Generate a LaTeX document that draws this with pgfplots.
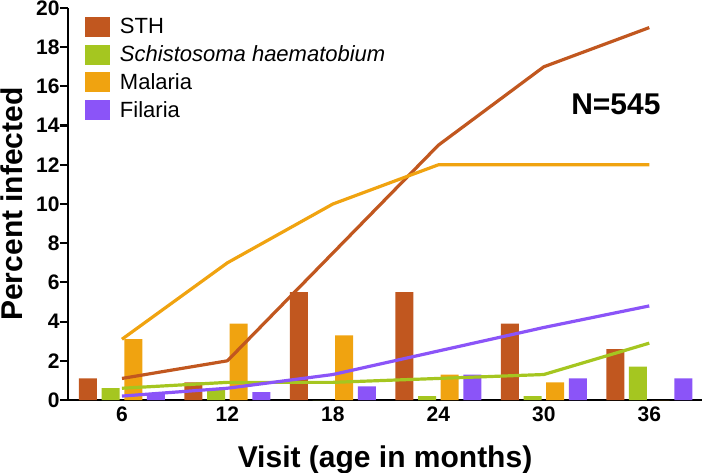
\documentclass[border=0pt]{standalone}
\usepackage{fontspec}
\setmainfont{Liberation Sans}
\usepackage{pgfplots}
\pgfplotsset{compat=1.18}
\definecolor{sth}{RGB}{193,87,31}
\definecolor{sha}{RGB}{165,198,32}
\definecolor{mal}{RGB}{240,163,16}
\definecolor{fil}{RGB}{139,84,248}
\pgfplotsset{sqleg/.style={legend image code/.code={\fill[##1] (0bp,-10bp) rectangle (25bp,10bp);}}}
\begin{document}
\begin{tikzpicture}
\begin{axis}[
  name=main,
  scale only axis, width=634bp, height=392bp,
  xmin=2.93, xmax=39, ymin=0, ymax=20,
  axis x line=bottom, axis y line=left,
  axis line style={line width=2.7bp, -},
  xtick={6,12,18,24,30,36}, ytick={0,2,...,20},
  x tick style={draw=none},
  y tick style={line width=2.2bp, black},
  tick align=outside, major tick length=8bp,
  /pgf/number format/assume math mode=true,
  ticklabel style={font=\bfseries\fontsize{21bp}{24bp}\selectfont},
  x tick label style={yshift=5bp},
  y tick label style={xshift=3bp},
  xlabel={Visit (age in months)}, ylabel={Percent infected},
  label style={font=\bfseries\fontsize{30bp}{34bp}\selectfont},
  xlabel style={at={(rel axis cs:0.5,0)}, anchor=base, yshift=-67bp},
  ylabel style={at={(rel axis cs:0,0.5)}, anchor=base, yshift=45bp, inner sep=0pt},
  legend style={draw=none, fill=none, at={(rel axis cs:0,1)}, anchor=north west,
    xshift=17bp, yshift=-9bp, inner sep=0pt, outer sep=0pt, row sep=7.7bp,
    font=\fontsize{22bp}{26bp}\selectfont, cells={anchor=west}, nodes={inner sep=0pt},
    /tikz/every odd column/.append style={column sep=10bp}},
  legend cell align=left,
]
\addplot[ybar, bar width=18bp, bar shift=-34bp, fill=sth, draw=none, sqleg]
  coordinates {(6,1.1) (12,0.9) (18,5.5) (24,5.5) (30,3.9) (36,2.6)};
\addlegendentry{STH}
\addplot[ybar, bar width=18bp, bar shift=-11.3bp, fill=sha, draw=none, sqleg]
  coordinates {(6,0.6) (12,0.5) (18,0) (24,0.2) (30,0.2) (36,1.7)};
\addlegendentry{\textit{Schistosoma haematobium}}
\addplot[ybar, bar width=18bp, bar shift=11.3bp, fill=mal, draw=none, sqleg]
  coordinates {(6,3.1) (12,3.9) (18,3.3) (24,1.3) (30,0.9) (36,0)};
\addlegendentry{Malaria}
\addplot[ybar, bar width=18bp, bar shift=34bp, fill=fil, draw=none, sqleg]
  coordinates {(6,0.3) (12,0.4) (18,0.7) (24,1.3) (30,1.1) (36,1.1)};
\addlegendentry{Filaria}

\addplot[sth, line width=3.2bp, line join=round, forget plot]
  coordinates {(6,1.1) (12,2.0) (18,7.5) (24,13) (30,17) (36,19)};
\addplot[sha, line width=3.2bp, line join=round, forget plot]
  coordinates {(6,0.6) (12,0.9) (18,0.9) (24,1.1) (30,1.3) (36,2.9)};
\addplot[mal, line width=3.2bp, line join=round, forget plot]
  coordinates {(6,3.1) (12,7) (18,10) (24,12) (30,12) (36,12)};
\addplot[fil, line width=3.2bp, line join=round, forget plot]
  coordinates {(6,0.2) (12,0.6) (18,1.3) (24,2.5) (30,3.7) (36,4.8)};

\node[font=\bfseries\fontsize{30bp}{34bp}\selectfont] at (axis cs:34.1,15.1) {N=545};
\end{axis}
\pgfresetboundingbox
\path[use as bounding box] ([xshift=-68bp,yshift=-73bp]main.south west) rectangle ([yshift=8bp]main.north east);
\end{tikzpicture}
\end{document}
